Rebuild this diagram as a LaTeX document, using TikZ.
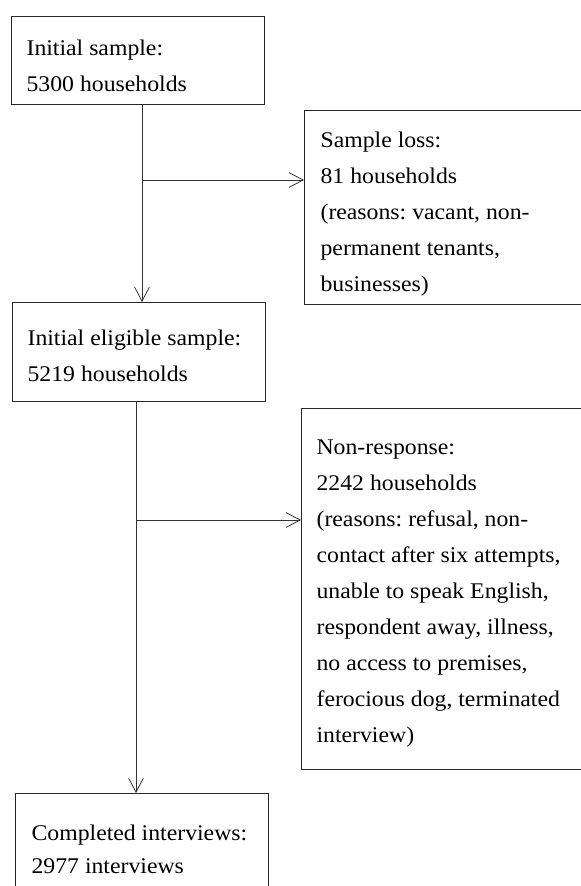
\documentclass[tikz,border=0pt]{standalone}
\usepackage{fontspec}
\setmainfont{Liberation Serif}[FakeStretch=1.06]
\usetikzlibrary{arrows.meta}
\newcommand{\boxtext}[5]{% width, height, first baseline, pad, text
  \parbox[c][#2][t]{#1}{\raggedright\frenchspacing\leftskip=#4\relax
  \fontsize{16.8pt}{27pt}\selectfont\rule{0pt}{#3}#5}}
\tikzset{
  flowbox/.style={draw=black!85, line width=0.9pt, inner sep=0pt, anchor=north west},
  arr/.style={draw=black!80, line width=0.6pt, -{Straight Barb[length=10.5pt,width=11pt,line width=0.6pt]}}
}
\begin{document}
\begin{tikzpicture}[x=0.75pt,y=-0.75pt]
\clip (0,0) rectangle (581,886);
\fill[white] (0,0) rectangle (581,886);
\node[flowbox] (a) at (11,16) {\boxtext{189.75pt}{66pt}{28.9pt}{11.25pt}{Initial sample:\\5300 households}};
\node[flowbox] (s) at (304,110) {\boxtext{222pt}{145.5pt}{27.75pt}{12pt}{Sample loss:\\81 households\\(reasons: vacant, non-\\permanent tenants,\\businesses)}};
\node[flowbox] (b) at (12,302) {\boxtext{189.75pt}{74.25pt}{32.25pt}{11.25pt}{Initial eligible sample:\\5219 households}};
\node[flowbox] (n) at (301,408) {\boxtext{224.25pt}{270.75pt}{34.5pt}{11.25pt}{Non-response:\\2242 households\\(reasons: refusal, non-\\contact after six attempts,\\unable to speak English,\\respondent away, illness,\\no access to premises,\\ferocious dog, terminated\\interview)}};
\node[flowbox] (c) at (15,793) {\boxtext{189.75pt}{90pt}{35.25pt}{12pt}{Completed interviews:\\[-2.25pt]2977 interviews}};
\coordinate (j1) at (142,180);
\coordinate (j2) at (136,520);
\draw[arr] (a.south -| j1) -- (b.north -| j1);
\draw[arr] (j1) -- (s.west |- j1);
\draw[arr] (b.south -| j2) -- (c.north -| j2);
\draw[arr] (j2) -- (n.west |- j2);
\end{tikzpicture}
\end{document}
